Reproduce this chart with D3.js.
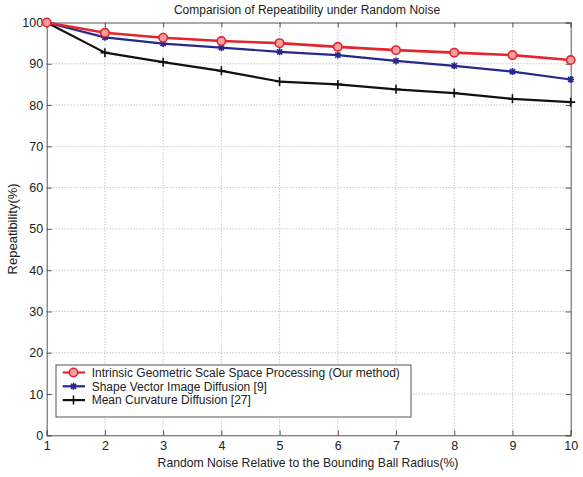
<!DOCTYPE html>
<html>
<head>
<meta charset="utf-8">
<script src="https://cdn.jsdelivr.net/npm/d3@7"></script>
<style>
  body { margin: 0; background: #fff; }
  svg text { font-family: Arial, "Liberation Sans", sans-serif; fill: #222; }
</style>
</head>
<body>
<svg id="chart" width="583" height="477"></svg>
<script>
const noiseLevels = [1, 2, 3, 4, 5, 6, 7, 8, 9, 10]
const ourMethod = [100, 97.5, 96.3, 95.5, 95.0, 94.1, 93.3, 92.7, 92.1, 90.9]
const shapeVector = [100, 96.4, 94.9, 93.9, 92.9, 92.1, 90.7, 89.5, 88.1, 86.2]
const meanCurvature = [100, 92.7, 90.4, 88.3, 85.7, 85.0, 83.8, 82.9, 81.5, 80.7]
const seriesNames = [
  'Intrinsic Geometric Scale Space Processing (Our method)',
  'Shape Vector Image Diffusion [9]',
  'Mean Curvature Diffusion [27]'
]
const yTicks = [0, 10, 20, 30, 40, 50, 60, 70, 80, 90, 100]

const margin = { top: 22.5, right: 12.3, bottom: 41.7, left: 46.7 }
const width = 583, height = 477
const svg = d3.select('#chart')

const x = d3.scaleLinear().domain([1, 10]).range([margin.left, width - margin.right])
const y = d3.scaleLinear().domain([0, 100]).range([height - margin.bottom, margin.top])

const series = [
  { name: seriesNames[0], values: ourMethod, color: '#e3262d', width: 2.6, marker: 'circle' },
  { name: seriesNames[1], values: shapeVector, color: '#27288a', width: 2.2, marker: 'star' },
  { name: seriesNames[2], values: meanCurvature, color: '#111111', width: 2.2, marker: 'plus' }
]

// dotted grid
const grid = svg.append('g').attr('class', 'grid')
grid.selectAll('.vgrid')
  .data(noiseLevels.slice(1, -1))
  .enter().append('line')
  .attr('x1', d => x(d)).attr('x2', d => x(d))
  .attr('y1', y(0)).attr('y2', y(100))
grid.selectAll('.hgrid')
  .data(yTicks.slice(1, -1))
  .enter().append('line')
  .attr('x1', x(1)).attr('x2', x(10))
  .attr('y1', d => y(d)).attr('y2', d => y(d))
grid.selectAll('line')
  .attr('stroke', '#9a9a9a')
  .attr('stroke-width', 0.8)
  .attr('stroke-dasharray', '1,2')

// axes with inward ticks
svg.append('g')
  .attr('transform', `translate(0,${y(0)})`)
  .call(d3.axisBottom(x).tickValues(noiseLevels).tickSize(-5).tickPadding(6).tickFormat(d3.format('d')))
svg.append('g')
  .attr('transform', `translate(0,${y(100)})`)
  .call(d3.axisTop(x).tickValues(noiseLevels).tickSize(-5).tickFormat(''))
svg.append('g')
  .attr('transform', `translate(${x(1)},0)`)
  .call(d3.axisLeft(y).tickValues(yTicks).tickSize(-5).tickPadding(3.5))
svg.append('g')
  .attr('transform', `translate(${x(10)},0)`)
  .call(d3.axisRight(y).tickValues(yTicks).tickSize(-5).tickFormat(''))

svg.selectAll('.domain').attr('stroke', '#555').attr('stroke-width', 1)
svg.selectAll('.tick line').attr('stroke', '#555')
svg.selectAll('.tick text').attr('font-size', 12.5).style('fill', '#222')

// lines
const line = d3.line()
  .x((d, i) => x(noiseLevels[i]))
  .y(d => y(d))

const drawMarker = (g, marker, color) => {
  if (marker === 'circle') {
    g.append('circle').attr('r', 4.2).attr('fill', '#f4a0a0').attr('stroke', color).attr('stroke-width', 1.6)
  } else if (marker === 'star') {
    g.append('path').attr('d', 'M-3.5,0H3.5M0,-3.5V3.5M-2.6,-2.6L2.6,2.6M-2.6,2.6L2.6,-2.6')
      .attr('stroke', color).attr('stroke-width', 1.6)
  } else {
    g.append('path').attr('d', 'M-4.5,0H4.5M0,-4.5V4.5')
      .attr('stroke', color).attr('stroke-width', 1.6)
  }
}

series.slice().reverse().forEach(s => {
  svg.append('path')
    .datum(s.values)
    .attr('fill', 'none')
    .attr('stroke', s.color)
    .attr('stroke-width', s.width)
    .attr('stroke-linejoin', 'round')
    .attr('d', line)
  svg.append('g').selectAll('g')
    .data(s.values)
    .enter().append('g')
    .attr('transform', (d, i) => `translate(${x(noiseLevels[i])},${y(d)})`)
    .each(function () { drawMarker(d3.select(this), s.marker, s.color) })
})

// legend
const legend = svg.append('g').attr('transform', 'translate(56,365)')
legend.append('rect')
  .attr('width', 355).attr('height', 52)
  .attr('fill', '#fff')
  .attr('stroke', '#555').attr('stroke-width', 1)
const rows = legend.selectAll('.row')
  .data(series)
  .enter().append('g')
  .attr('transform', (d, i) => `translate(0,${7.5 + i * 13.8})`)
rows.append('line')
  .attr('x1', 6.7).attr('x2', 29)
  .attr('stroke', d => d.color).attr('stroke-width', 2.2)
rows.append('g').attr('transform', 'translate(17.5,0)')
  .each(function (d) { drawMarker(d3.select(this), d.marker, d.color) })
rows.append('text')
  .attr('x', 35.7).attr('dy', '0.35em')
  .attr('font-size', 12)
  .text(d => d.name)

// titles
svg.append('text')
  .attr('x', 307).attr('y', 13.5)
  .attr('text-anchor', 'middle').attr('font-size', 12)
  .text('Comparision of Repeatibility under Random Noise')
svg.append('text')
  .attr('x', 308).attr('y', 466.5)
  .attr('text-anchor', 'middle').attr('font-size', 12.2)
  .text('Random Noise Relative to the Bounding Ball Radius(%)')
svg.append('text')
  .attr('transform', `translate(17,${y(50)}) rotate(-90)`)
  .attr('text-anchor', 'middle').attr('font-size', 13)
  .text('Repeatibility(%)')
</script>
</body>
</html>
